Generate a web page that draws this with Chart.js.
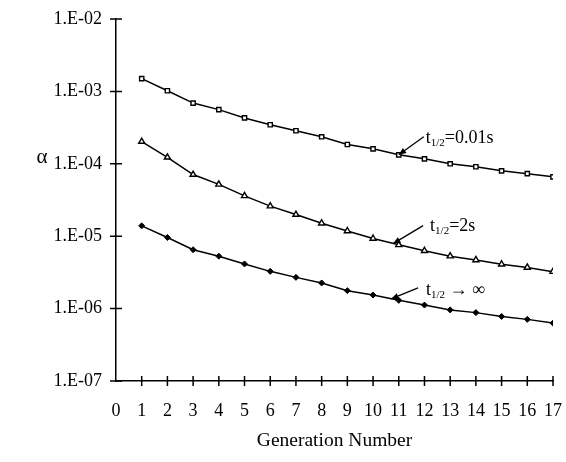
<!DOCTYPE html>
<html>
<head>
<meta charset="utf-8">
<script src="https://cdn.jsdelivr.net/npm/chart.js@4.4.0/dist/chart.umd.min.js"></script>
<style>
  html, body { margin: 0; padding: 0; background: #fff; }
  #wrap { width: 566px; height: 462px; position: relative; }
</style>
</head>
<body>
<div id="wrap"><canvas id="alphaChart"></canvas></div>
<script>
const generations = [1, 2, 3, 4, 5, 6, 7, 8, 9, 10, 11, 12, 13, 14, 15, 16, 17];
const alphaFast = [1.5e-3, 1.02e-3, 6.9e-4, 5.6e-4, 4.3e-4, 3.46e-4, 2.86e-4, 2.36e-4, 1.85e-4, 1.61e-4, 1.33e-4, 1.17e-4, 1.0e-4, 9.1e-5, 8.0e-5, 7.3e-5, 6.6e-5];
const alphaMid = [2.03e-4, 1.23e-4, 7.1e-5, 5.2e-5, 3.6e-5, 2.6e-5, 1.99e-5, 1.51e-5, 1.18e-5, 9.3e-6, 7.6e-6, 6.3e-6, 5.3e-6, 4.7e-6, 4.1e-6, 3.7e-6, 3.24e-6];
const alphaInf = [1.39e-5, 9.6e-6, 6.5e-6, 5.3e-6, 4.14e-6, 3.27e-6, 2.7e-6, 2.26e-6, 1.77e-6, 1.54e-6, 1.3e-6, 1.12e-6, 9.6e-7, 8.8e-7, 7.8e-7, 7.1e-7, 6.3e-7];
const yTickValues = [1e-7, 1e-6, 1e-5, 1e-4, 1e-3, 1e-2];
const yTickLabels = ['1.E-07', '1.E-06', '1.E-05', '1.E-04', '1.E-03', '1.E-02'];
const seriesLabels = ['=0.01s', '=2s', ' \u2192 \u221e'];
// arrow tips sit on the curves (generation, alpha)
const arrowTips = [[11, 1.33e-4], [10.78, 7.9e-6], [10.7, 1.36e-6]];
const yTitle = '\u03b1';
const xTitle = 'Generation Number';

const serif = '"Liberation Serif", "DejaVu Serif", serif';

function toPoints(vals) {
  return generations.map((g, i) => ({ x: g, y: vals[i] }));
}

// crossing tick marks, alpha label, arrows + t1/2 labels
const decorPlugin = {
  id: 'decor',
  afterDraw(chart) {
    const c = chart.ctx;
    const xs = chart.scales.x, ys = chart.scales.y;
    const area = chart.chartArea;
    c.save();
    c.strokeStyle = '#000';
    c.lineWidth = 1.5;
    c.beginPath();
    yTickValues.forEach(v => {
      const py = ys.getPixelForValue(v);
      c.moveTo(area.left - 6, py);
      c.lineTo(area.left + 6, py);
    });
    for (let g = 1; g <= 17; g++) {
      const px = xs.getPixelForValue(g);
      c.moveTo(px, area.bottom - 5);
      c.lineTo(px, area.bottom + 5);
    }
    c.stroke();

    c.fillStyle = '#000';
    c.font = '21px ' + serif;
    c.textAlign = 'center';
    c.textBaseline = 'middle';
    c.fillText(yTitle, 42, 157);

    c.lineWidth = 1.3;
    const tails = [[25, -18], [30, -18], [27, -11]];
    const textOffsets = [[27, -12], [37, -13], [35, -4]];
    arrowTips.forEach((tip, i) => {
      const tx = xs.getPixelForValue(tip[0]);
      const ty = ys.getPixelForValue(tip[1]);
      const sx = tx + tails[i][0], sy = ty + tails[i][1];
      c.beginPath();
      c.moveTo(sx, sy);
      c.lineTo(tx, ty);
      c.stroke();
      const ang = Math.atan2(ty - sy, tx - sx);
      const hl = 8, hw = 0.4;
      c.beginPath();
      c.moveTo(tx, ty);
      c.lineTo(tx - hl * Math.cos(ang - hw), ty - hl * Math.sin(ang - hw));
      c.lineTo(tx - hl * Math.cos(ang + hw), ty - hl * Math.sin(ang + hw));
      c.closePath();
      c.fill();

      let lx = tx + textOffsets[i][0];
      const ly = ty + textOffsets[i][1];
      c.textAlign = 'left';
      c.textBaseline = 'alphabetic';
      c.font = '18px ' + serif;
      c.fillText('t', lx, ly);
      lx += c.measureText('t').width;
      c.font = '11px ' + serif;
      c.fillText('1/2', lx, ly + 3);
      lx += c.measureText('1/2').width;
      c.font = '18px ' + serif;
      c.fillText(seriesLabels[i], lx, ly);
    });
    c.restore();
  }
};

const ctx = document.getElementById('alphaChart');
new Chart(ctx, {
  type: 'line',
  data: {
    datasets: [
      {
        label: 't1/2=0.01s',
        data: toPoints(alphaFast),
        borderColor: '#000',
        borderWidth: 1.5,
        backgroundColor: '#fff',
        pointStyle: 'rect',
        pointRadius: 3,
        pointBorderWidth: 1.4,
        tension: 0
      },
      {
        label: 't1/2=2s',
        data: toPoints(alphaMid),
        borderColor: '#000',
        borderWidth: 1.5,
        backgroundColor: '#fff',
        pointStyle: 'triangle',
        pointRadius: 3.5,
        pointBorderWidth: 1.4,
        tension: 0
      },
      {
        label: 't1/2->inf',
        data: toPoints(alphaInf),
        borderColor: '#000',
        borderWidth: 1.5,
        backgroundColor: '#000',
        pointStyle: 'rectRot',
        pointRadius: 3,
        pointBorderWidth: 1,
        tension: 0
      }
    ]
  },
  options: {
    responsive: true,
    maintainAspectRatio: false,
    animation: false,
    layout: { padding: { left: 0, right: 13, top: 19, bottom: 0 } },
    plugins: {
      legend: { display: false },
      tooltip: { enabled: false }
    },
    scales: {
      x: {
        type: 'linear',
        min: 0,
        max: 17,
        grid: { display: false, drawTicks: false },
        border: { display: true, color: '#000', width: 1.5 },
        ticks: {
          stepSize: 1,
          padding: 19,
          color: '#000',
          font: { family: serif, size: 18 },
          maxRotation: 0,
          autoSkip: false
        },
        title: {
          display: true,
          text: xTitle,
          color: '#000',
          font: { family: serif, size: 19.5 },
          padding: { top: 8, bottom: 9 }
        },
        afterFit(scale) {
          scale.height = 81;
          scale.paddingLeft = 0;
          scale.paddingRight = 0;
        }
      },
      y: {
        type: 'logarithmic',
        min: 1e-7,
        max: 1e-2,
        grid: { display: false, drawTicks: false },
        border: { display: true, color: '#000', width: 1.5 },
        afterBuildTicks(scale) {
          scale.ticks = yTickValues.map(v => ({ value: v }));
        },
        ticks: {
          padding: 14,
          color: '#000',
          font: { family: serif, size: 18 },
          callback(value) {
            const idx = yTickValues.findIndex(v => Math.abs(v - value) / v < 1e-6);
            return idx >= 0 ? yTickLabels[idx] : '';
          }
        },
        afterFit(scale) {
          scale.width = 116;
          scale.paddingTop = 0;
          scale.paddingBottom = 0;
        }
      }
    }
  },
  plugins: [decorPlugin]
});
</script>
</body>
</html>
